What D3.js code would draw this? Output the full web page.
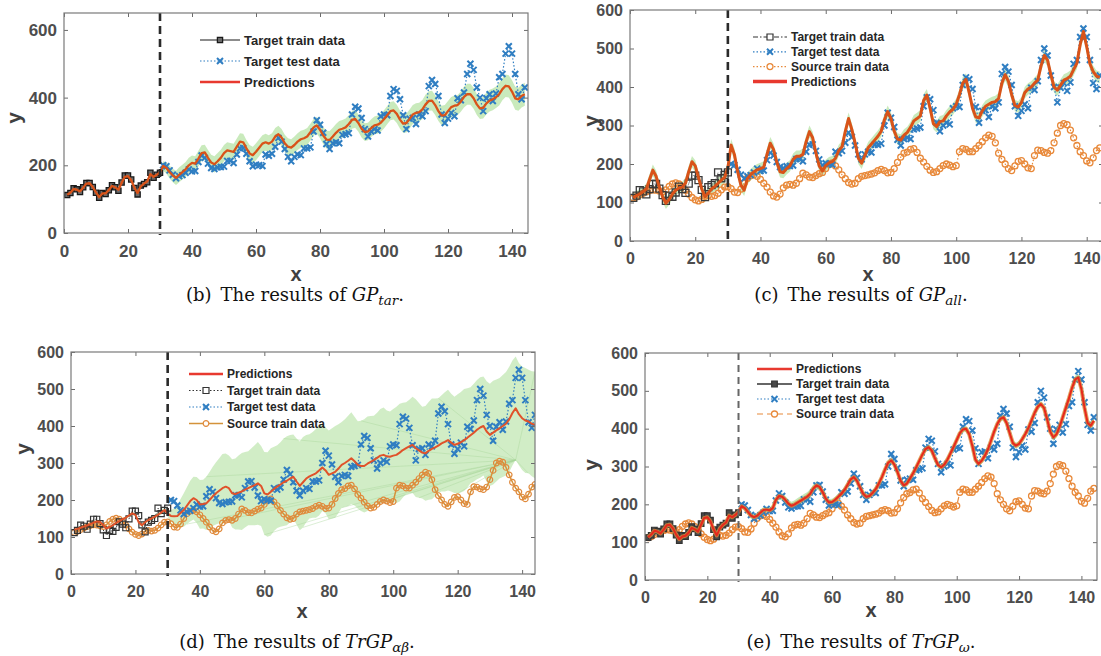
<!DOCTYPE html>
<html>
<head>
<meta charset="utf-8">
<script src="https://cdn.jsdelivr.net/npm/d3@7"></script>
<style>
  body { margin: 0; background: #fff; }
  svg { display: block; }
</style>
</head>
<body>
<script>
// values, monthly index x = 1..144
const trainY = [112,118,132,129,121,135,148,148,136,119,104,118,115,126,141,135,125,149,170,170,158,133,114,140,145,150,178,163,172,178];

const testY = [
  200,197,185,172,162,168,171,178,188,182,
  183,210,229,222,205,192,189,194,195,196,
  213,213,207,232,250,251,234,212,197,202,
  200,198,232,228,234,255,281,270,248,225,
  212,225,232,230,250,250,253,300,333,320,
  296,263,248,265,268,265,290,292,295,350,
  373,368,340,307,285,300,307,303,345,350,
  348,405,425,420,395,348,307,338,340,322,
  350,345,360,434,452,440,405,350,325,338,
  355,345,398,392,415,470,500,482,430,400,
  360,398,410,390,412,460,470,530,552,530,
  470,410,395,430];

const sourceY = [
  112,115,120,124,128,131,133,132,130,128,
  133,142,148,151,148,141,132,122,113,107,
  104,108,116,118,116,118,124,133,140,141,
  136,127,126,135,150,163,170,172,168,160,
  150,140,127,117,114,122,138,145,147,145,
  150,162,176,172,166,165,170,175,178,188,
  200,203,195,185,172,162,152,148,150,162,
  168,170,172,174,177,183,186,183,177,178,
  188,204,218,228,231,238,240,230,215,205,
  194,184,178,180,188,196,200,197,193,196,
  232,240,238,232,232,240,248,258,268,275,
  272,255,228,212,200,188,183,195,207,209,
  200,190,188,222,236,235,230,228,235,255,
  280,300,305,302,288,268,248,232,222,208,
  203,216,235,242];

// (b) GP_tar
const predTar = [
  113,119,130,128,123,134,146,147,136,120,
  106,117,117,127,139,135,128,148,166,168,
  156,134,118,138,146,152,174,166,172,180,
  198,192,180,170,163,172,180,188,200,207,
  205,220,236,238,222,208,203,212,222,236,
  244,242,240,255,270,268,250,235,230,240,
  252,264,268,264,270,285,292,282,265,255,
  252,260,270,277,280,285,298,312,318,305,
  288,276,275,285,296,305,308,312,322,334,
  337,325,308,298,300,310,318,320,326,336,
  348,360,362,352,335,323,325,337,350,355,
  357,365,380,390,391,378,360,347,348,360,
  372,376,378,388,402,410,410,398,380,368,
  370,383,391,395,401,410,425,435,433,418,
  398,395,405,410];
const sdTar = [
  3,3,3,3,3,3,3,3,3,3, 3,3,3,3,3,3,3,3,3,3, 3,3,3,3,3,3,3,3,3,3,
  14,17,19,20,21,22,22,22,22,22,
  22,23,23,23,23,23,24,24,24,24,
  24,24,24,24,25,25,25,25,25,25,
  25,25,25,25,25,25,25,25,25,25,
  25,25,25,25,25,25,25,25,25,25,
  25,26,26,26,26,26,26,26,26,26,
  26,26,26,26,26,26,26,27,27,27,
  27,27,27,27,27,27,28,28,28,28,
  28,28,29,29,29,29,29,29,30,30,
  30,30,30,30,31,31,31,31,31,31,
  32,32,32,32,32,33,33,33,33,33,
  34,34,34,34];

// (c) GP_all
const predAll = [
  112,118,122,128,135,160,184,168,140,115,
  98,108,122,132,138,140,150,180,206,195,
  165,135,115,125,135,142,150,158,165,190,
  249,225,180,145,132,162,172,180,185,188,
  192,225,254,238,205,180,178,188,195,212,
  220,220,225,258,284,268,228,195,182,196,
  203,206,215,235,245,285,318,290,255,215,
  202,222,242,252,262,272,285,315,336,318,
  285,265,262,275,282,295,312,318,325,365,
  379,345,305,297,310,312,325,335,342,355,
  380,410,420,385,345,322,320,338,350,355,
  360,362,370,410,432,415,380,352,348,360,
  385,395,400,410,418,455,482,470,432,400,
  392,405,418,422,428,445,462,510,544,505,
  460,440,428,425];
const sdAll = [
  12,12,13,13,14,14,15,15,14,14,
  15,14,13,13,14,14,15,15,15,15,
  14,14,14,13,13,13,14,14,15,16,
  16,16,15,15,15,15,15,15,15,15,
  15,16,16,16,15,15,15,15,15,15,
  15,15,15,16,16,16,15,15,15,15,
  15,15,15,15,15,16,16,16,15,15,
  15,15,15,15,15,15,15,16,16,16,
  15,15,15,15,15,15,15,15,15,16,
  16,16,15,15,15,15,15,15,15,15,
  15,16,16,16,15,15,15,15,15,15,
  15,15,15,16,16,16,15,15,15,15,
  15,15,15,15,15,16,16,16,15,15,
  15,15,15,15,15,15,15,16,16,16,
  15,15,15,15];

// (d) TrGP_alpha_beta
const predAB = [
  120,122,125,128,131,135,139,142,141,132,
  123,127,132,138,143,148,152,158,164,160,
  140,132,140,146,150,155,160,166,173,163,
  157,156,157,165,173,185,197,205,200,188,
  189,191,200,210,218,225,232,236,232,218,
  216,220,223,228,232,236,240,245,238,218,
  215,222,230,236,242,248,252,258,263,250,
  238,248,258,264,268,272,280,288,280,268,
  272,276,285,295,300,306,313,305,295,292,
  292,298,303,308,314,320,322,318,317,320,
  322,328,335,340,345,349,340,334,328,326,
  333,338,342,347,353,357,362,355,349,352,
  356,362,368,375,382,390,396,400,385,376,
  382,388,394,400,406,418,435,448,432,421,
  415,412,406,403];
const sdAB = [
  4,4,4,4,4,4,4,4,4,4,
  4,4,4,4,4,4,4,4,4,5,
  5,5,5,5,6,6,6,6,7,8,
  15,22,30,38,45,50,55,58,62,66,
  66,72,76,80,84,88,92,90,88,92,
  96,100,104,102,100,104,108,112,108,112,
  114,118,114,112,114,118,120,118,114,116,
  120,122,118,114,116,120,122,118,116,120,
  122,124,120,116,118,122,124,120,118,122,
  126,128,124,120,122,126,128,124,122,126,
  130,132,128,124,126,130,132,128,124,128,
  132,136,132,128,130,134,136,132,130,134,
  136,138,134,130,132,134,136,134,136,138,
  140,138,136,138,140,142,142,140,138,140,
  142,140,142,144];

// (e) TrGP_omega
const predOmega = [
  113,120,130,128,123,133,145,146,136,120,
  108,115,117,125,138,134,128,146,164,166,
  155,134,118,136,146,152,170,166,172,180,
  195,190,180,170,166,170,178,185,186,184,
  190,212,222,220,212,202,196,200,205,210,
  215,220,228,242,250,246,232,215,205,206,
  212,220,228,238,252,266,272,262,244,228,
  220,222,230,240,255,272,292,310,316,305,
  285,262,250,255,268,282,298,315,332,346,
  351,342,322,304,298,305,318,335,352,370,
  388,398,400,385,355,318,307,315,328,345,
  368,392,412,426,430,415,388,362,355,360,
  372,386,402,422,442,458,465,455,425,392,
  377,385,405,430,455,480,508,530,535,505,
  455,415,408,421];
const sdOmega = [
  3,3,3,3,3,3,3,3,3,3, 3,3,3,3,3,3,3,3,3,3, 3,3,3,3,3,3,3,3,3,3,
  6,7,8,8,8,8,8,8,8,8,
  8,9,9,9,10,10,11,11,12,12,
  12,12,12,11,11,10,10,9,9,9,
  8,8,8,8,8,8,8,8,8,8,
  8,8,8,8,8,8,8,8,8,8,
  8,8,8,8,8,8,8,8,8,8,
  8,8,8,8,8,8,8,8,8,8,
  8,8,8,8,8,8,8,8,8,8,
  8,8,8,8,8,8,8,8,8,8,
  8,8,8,8,8,8,8,8,8,9,
  9,9,9,9,9,9,10,10,10,10,
  10,10,10,10];

const xTicks = [0, 20, 40, 60, 80, 100, 120, 140];
const yTicksTar = [0, 200, 400, 600];
const yTicks = [0, 100, 200, 300, 400, 500, 600];
const splitX = 30;

const W = 1101, H = 656;
const sansFont = "'Liberation Sans', Arial, Helvetica, sans-serif";
const serifFont = "'DejaVu Serif', 'Liberation Serif', serif";

const svg = d3.select("body").append("svg")
  .attr("width", W).attr("height", H);
svg.append("rect").attr("width", W).attr("height", H).attr("fill", "#fff");

const xs = d3.range(1, 145);
const train = trainY.map((v, i) => ({ x: i + 1, y: v }));
const test = testY.map((v, i) => ({ x: i + 31, y: v }));
const source = sourceY.map((v, i) => ({ x: i + 1, y: v }));

function markerPath(type, s) {
  if (type === "square") return `M${-s},${-s}H${s}V${s}H${-s}Z`;
  if (type === "cross") return `M${-s},${-s}L${s},${s}M${-s},${s}L${s},${-s}`;
  if (type === "circle") return `M${s},0A${s},${s} 0 1,1 ${-s},0A${s},${s} 0 1,1 ${s},0Z`;
  return "";
}

function drawSeries(sel, pts, x, y, st) {
  const g = sel.append("g");
  if (st.width > 0) {
    g.append("path").datum(pts)
      .attr("d", d3.line().x(d => x(d.x)).y(d => y(d.y)))
      .attr("fill", "none")
      .attr("stroke", st.color)
      .attr("stroke-width", st.width)
      .attr("stroke-dasharray", st.dash || null)
      .attr("stroke-opacity", st.lineOpacity ?? 1)
      .attr("stroke-linejoin", "round");
  }
  if (st.marker) {
    g.selectAll("path.m").data(pts).join("path")
      .attr("class", "m")
      .attr("transform", d => `translate(${x(d.x)},${y(d.y)})`)
      .attr("d", markerPath(st.marker, st.ms))
      .attr("fill", st.mfill || "none")
      .attr("stroke", st.mstroke || st.color)
      .attr("stroke-width", st.msw);
  }
}

function drawLegend(g, o) {
  o.legend.items.forEach((it, i) => {
    const ly = o.legend.y + i * o.legend.dy;
    const x1 = o.legend.x, x2 = o.legend.x + o.legend.len;
    g.append("line")
      .attr("x1", x1).attr("x2", x2).attr("y1", ly).attr("y2", ly)
      .attr("stroke", it.st.color)
      .attr("stroke-width", it.st.legendWidth || it.st.width)
      .attr("stroke-dasharray", it.st.dash || null);
    if (it.st.marker) {
      g.append("path")
        .attr("transform", `translate(${(x1 + x2) / 2},${ly})`)
        .attr("d", markerPath(it.st.marker, it.st.ms))
        .attr("fill", it.st.mfill && it.st.mfill !== "none" ? it.st.mfill : "#fff")
        .attr("stroke", it.st.mstroke || it.st.color)
        .attr("stroke-width", it.st.msw);
    }
    g.append("text")
      .attr("x", x2 + 4).attr("y", ly)
      .attr("dy", "0.35em")
      .attr("font-family", sansFont)
      .attr("font-weight", "bold")
      .attr("font-size", o.legend.font)
      .attr("fill", "#262626")
      .text(it.label);
  });
}

function drawPanel(o) {
  const g = svg.append("g");
  const x = d3.scaleLinear().domain([0, o.xMax]).range([o.left, o.right]);
  const y = d3.scaleLinear().domain([0, o.yMax]).range([o.bottom, o.top]);

  const clipId = "clip-" + o.id;
  g.append("clipPath").attr("id", clipId).append("rect")
    .attr("x", o.left).attr("y", o.top)
    .attr("width", o.right - o.left).attr("height", o.bottom - o.top);
  const plot = g.append("g").attr("clip-path", `url(#${clipId})`);

  // confidence band around the predictions
  const band = xs.map((xv, i) => ({ x: xv, lo: o.pred[i] - o.sd[i], hi: o.pred[i] + o.sd[i] }));
  plot.append("path").datum(band)
    .attr("d", d3.area().x(d => x(d.x)).y0(d => y(d.lo)).y1(d => y(d.hi)))
    .attr("fill", o.bandColor)
    .attr("fill-opacity", o.bandOpacity);

  // faint fan of lines seen inside the wide band of (d)
  if (o.fan) {
    const hub = band[o.fan.hub - 1];
    plot.append("g").selectAll("line").data(o.fan.to).join("line")
      .attr("x1", x(hub.x)).attr("y1", y(hub.lo))
      .attr("x2", d => x(band[d.i - 1].x))
      .attr("y2", d => y(d.edge === "hi" ? band[d.i - 1].hi : band[d.i - 1].lo))
      .attr("stroke", "#a9d79a").attr("stroke-width", 0.6).attr("stroke-opacity", 0.7);
  }

  if (o.styles.source) drawSeries(plot, source, x, y, o.styles.source);
  drawSeries(plot, train, x, y, o.styles.train);
  drawSeries(plot, test, x, y, o.styles.test);
  const predPts = xs.map((xv, i) => ({ x: xv, y: o.pred[i] }));
  if (o.styles.predUnder) drawSeries(plot, predPts, x, y, o.styles.predUnder);
  drawSeries(plot, predPts, x, y, o.styles.pred);

  // split between target training and test data
  g.append("line")
    .attr("x1", x(splitX)).attr("x2", x(splitX))
    .attr("y1", o.top).attr("y2", o.bottom + 2)
    .attr("stroke", o.split.color)
    .attr("stroke-width", o.split.width)
    .attr("stroke-dasharray", o.split.dash);

  // axes with inward ticks on all four sides
  const ticks = o.yTicks;
  g.append("g").attr("transform", `translate(0,${o.bottom})`)
    .call(d3.axisBottom(x).tickValues(xTicks).tickSize(-4).tickPadding(12));
  g.append("g").attr("transform", `translate(0,${o.top})`)
    .call(d3.axisTop(x).tickValues(xTicks).tickSize(-4).tickFormat(""));
  g.append("g").attr("transform", `translate(${o.left},0)`)
    .call(d3.axisLeft(y).tickValues(ticks).tickSize(-4).tickPadding(7));
  g.append("g").attr("transform", `translate(${o.right},0)`)
    .call(d3.axisRight(y).tickValues(ticks).tickSize(-4).tickFormat(""));
  g.selectAll(".domain").remove();
  g.selectAll(".tick line").attr("stroke", "#6b6b6b");
  g.selectAll(".tick text")
    .attr("font-family", sansFont)
    .attr("font-weight", "bold")
    .attr("font-size", o.tickFont)
    .attr("fill", "#4d4d4d");

  g.append("rect")
    .attr("x", o.left).attr("y", o.top)
    .attr("width", o.right - o.left).attr("height", o.bottom - o.top)
    .attr("fill", "none").attr("stroke", "#7a7a7a").attr("stroke-width", 1.2);

  // axis labels
  g.append("text")
    .attr("x", o.xLabel[0]).attr("y", o.xLabel[1])
    .attr("text-anchor", "middle")
    .attr("font-family", sansFont).attr("font-weight", "bold")
    .attr("font-size", 20).attr("fill", "#404040")
    .text("x");
  g.append("text")
    .attr("transform", `translate(${o.yLabel[0]},${o.yLabel[1]}) rotate(-90)`)
    .attr("text-anchor", "middle")
    .attr("font-family", sansFont).attr("font-weight", "bold")
    .attr("font-size", 21).attr("fill", "#404040")
    .text("y");

  drawLegend(g, o);

  // caption under the panel
  const cap = svg.append("text")
    .attr("x", o.caption.x).attr("y", o.caption.y)
    .attr("text-anchor", "middle")
    .attr("font-family", serifFont)
    .attr("font-size", 18)
    .attr("fill", "#111");
  cap.append("tspan").text(`(${o.caption.tag})\u2002The results of `);
  cap.append("tspan").attr("font-style", "italic").text(o.caption.main);
  cap.append("tspan").attr("font-style", "italic").attr("font-size", 13.5)
    .attr("dy", 4).text(o.caption.sub);
  cap.append("tspan").attr("dy", -4).text(".");
}

const blueTest = { color: "#2f7ec2", width: 1.2, dash: "1.5,2", marker: "cross", ms: 3, msw: 2 };
const redLegend = "#e8392f";

// (b)
const stB = {
  train: { color: "#1a1a1a", width: 1.2, marker: "square", ms: 2.6, msw: 1.3, mfill: "#6a6a6a" },
  test: blueTest,
  pred: { color: "#d95319", width: 2.3, legendWidth: 2.5 }
};
drawPanel({
  id: "b", left: 64, right: 528, top: 13, bottom: 233, xMax: 145, yMax: 650,
  yTicks: yTicksTar, tickFont: 17, pred: predTar, sd: sdTar,
  bandColor: "#bfe6b0", bandOpacity: 0.85,
  styles: stB,
  split: { color: "#2a2a2a", width: 2.6, dash: "8,5" },
  xLabel: [296, 281], yLabel: [21, 118],
  legend: { x: 200, y: 40, dy: 21, len: 40, font: 13, items: [
    { label: "Target train data", st: stB.train },
    { label: "Target test data", st: stB.test },
    { label: "Predictions", st: { color: redLegend, width: 2.5 } }
  ] },
  caption: { x: 295, y: 301, tag: "b", main: "GP", sub: "tar" }
});

// (c)
const stC = {
  source: { color: "#e8893a", width: 1.2, dash: "1.5,2", marker: "circle", ms: 3, msw: 1.3 },
  train: { color: "#333", width: 1, dash: "6,2,1.5,2", lineOpacity: 0.5, marker: "square", ms: 3.5, msw: 1.3, mstroke: "#3a3a3a" },
  test: blueTest,
  pred: { color: "#d95319", width: 3 }
};
drawPanel({
  id: "c", left: 630, right: 1103, top: 10, bottom: 241, xMax: 145, yMax: 600,
  yTicks: yTicks, tickFont: 16, pred: predAll, sd: sdAll,
  bandColor: "#bfe6b0", bandOpacity: 0.85,
  styles: stC,
  split: { color: "#2a2a2a", width: 2.6, dash: "8,5" },
  xLabel: [868, 281], yLabel: [598, 121],
  legend: { x: 753, y: 37, dy: 14.8, len: 34, font: 12, items: [
    { label: "Target train data", st: { color: "#333", width: 1.2, dash: "5,2,1.5,2", marker: "square", ms: 3, msw: 1.2 } },
    { label: "Target test data", st: stC.test },
    { label: "Source train data", st: stC.source },
    { label: "Predictions", st: { color: redLegend, width: 3.5 } }
  ] },
  caption: { x: 861, y: 301, tag: "c", main: "GP", sub: "all" }
});

// (d)
const stD = {
  source: { color: "#d4923a", width: 1.5, marker: "circle", ms: 2.8, msw: 1.2, mstroke: "#e08a3c" },
  train: { color: "#333", width: 1, dash: "1.5,2", marker: "square", ms: 3, msw: 1.2 },
  test: blueTest,
  pred: { color: "#e0522a", width: 2 }
};
drawPanel({
  id: "d", left: 71, right: 535, top: 352, bottom: 574, xMax: 144, yMax: 600,
  yTicks: yTicks, tickFont: 16, pred: predAB, sd: sdAB,
  bandColor: "#c6e9b8", bandOpacity: 0.8,
  fan: { hub: 138, to: [
    { i: 36, edge: "lo" }, { i: 48, edge: "lo" }, { i: 60, edge: "lo" }, { i: 72, edge: "lo" },
    { i: 84, edge: "lo" }, { i: 96, edge: "lo" }, { i: 108, edge: "lo" }, { i: 120, edge: "lo" },
    { i: 42, edge: "hi" }, { i: 66, edge: "hi" }, { i: 90, edge: "hi" }, { i: 114, edge: "hi" },
    { i: 144, edge: "hi" }, { i: 142, edge: "lo" }
  ] },
  styles: stD,
  split: { color: "#2a2a2a", width: 2.6, dash: "8,5" },
  xLabel: [302, 618], yLabel: [30, 449],
  legend: { x: 189, y: 374, dy: 16.5, len: 34, font: 12, items: [
    { label: "Predictions", st: { color: redLegend, width: 2.5 } },
    { label: "Target train data", st: stD.train },
    { label: "Target test data", st: stD.test },
    { label: "Source train data", st: stD.source }
  ] },
  caption: { x: 297, y: 648, tag: "d", main: "TrGP", sub: "\u03B1\u03B2" }
});

// (e)
const stE = {
  source: { color: "#e8893a", width: 1.2, dash: "6,4", marker: "circle", ms: 3, msw: 1.3 },
  train: { color: "#333", width: 1.4, marker: "square", ms: 2.8, msw: 1.2, mfill: "#4a4a4a" },
  test: blueTest,
  predUnder: { color: "#d98a3a", width: 4, lineOpacity: 0.8 },
  pred: { color: "#e8281c", width: 2 }
};
drawPanel({
  id: "e", left: 645, right: 1097, top: 353, bottom: 580, xMax: 145, yMax: 600,
  yTicks: yTicks, tickFont: 16, pred: predOmega, sd: sdOmega,
  bandColor: "#bfe6b0", bandOpacity: 0.9,
  styles: stE,
  split: { color: "#666", width: 2, dash: "7,5" },
  xLabel: [871, 617], yLabel: [598, 465],
  legend: { x: 757, y: 369, dy: 15, len: 35, font: 12, items: [
    { label: "Predictions", st: { color: redLegend, width: 2.5 } },
    { label: "Target train data", st: stE.train },
    { label: "Target test data", st: stE.test },
    { label: "Source train data", st: stE.source }
  ] },
  caption: { x: 861, y: 648, tag: "e", main: "TrGP", sub: "\u03C9" }
});
</script>
</body>
</html>
